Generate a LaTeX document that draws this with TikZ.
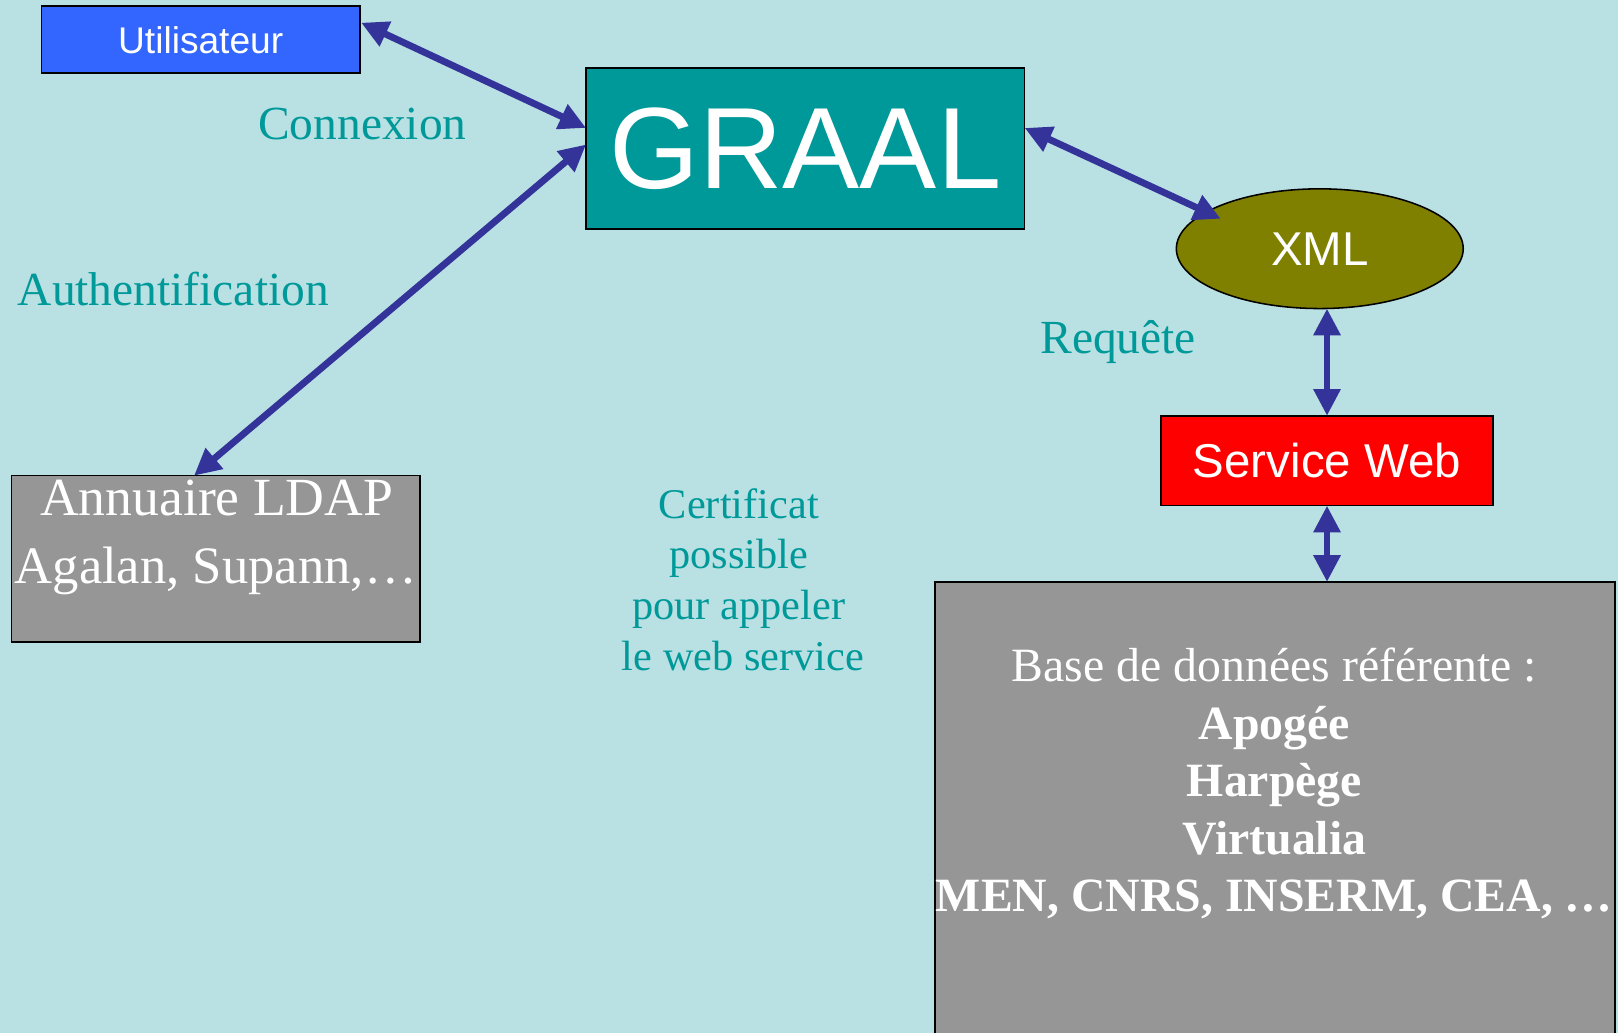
\documentclass[tikz,border=0pt]{standalone}
\usepackage{fontspec}
\setmainfont{Liberation Serif}
\newfontfamily\arialf{Liberation Sans}
\usetikzlibrary{arrows.meta,calc,shapes.geometric}
\definecolor{bgc}{HTML}{B9E0E3}
\definecolor{tealc}{HTML}{009999}
\definecolor{arrc}{HTML}{333399}
\definecolor{bluec}{HTML}{3366FF}
\definecolor{olivec}{HTML}{808000}
\definecolor{grayc}{HTML}{969696}
\tikzset{
  box/.style={draw=black, line width=1.5pt, inner sep=0pt, outer sep=0pt},
  lbl/.style={text=tealc, inner sep=0pt, anchor=base west, font=\fontsize{46}{50}\selectfont},
  cert/.style={text=tealc, inner sep=0pt, anchor=base, font=\fontsize{41}{50}\selectfont},
  wtxt/.style={text=white, inner sep=0pt, anchor=base},
  link/.style={draw=arrc, line width=6.6pt, {Triangle[length=26pt,width=25pt]}-{Triangle[length=26pt,width=25pt]}}
}
\begin{document}
\begin{tikzpicture}[x=1pt,y=-1pt]
\fill[bgc] (0,0) rectangle (1568,1001);
\useasboundingbox (0,0) rectangle (1568,1001);
% boxes
\node[box, fill=bluec, minimum width=309pt, minimum height=65pt, anchor=north west, text=white, font=\arialf\fontsize{36}{40}\selectfont] (util) at (40,6) {Utilisateur};
\node[box, fill=tealc, minimum width=425pt, minimum height=156pt, anchor=north west, text=white, font=\arialf\fontsize{112}{120}\selectfont] (graal) at (568,66) {GRAAL};
\node[box, ellipse, fill=olivec, minimum width=278pt, minimum height=116pt, text=white, font=\arialf\fontsize{46}{50}\selectfont] (xml) at (1279,241) {XML};
\node[box, fill=red, minimum width=322pt, minimum height=87pt, anchor=north west, text=white, font=\arialf\fontsize{46}{50}\selectfont] (sw) at (1125,403) {Service Web};
\node[box, fill=grayc, minimum width=396pt, minimum height=161pt, anchor=north west] (ldap) at (11,461) {};
\node[box, fill=grayc, minimum width=659pt, minimum height=445pt, anchor=north west] (base) at (906,564) {};
% LDAP text
\node[wtxt, font=\fontsize{52}{55}\selectfont] (ldap1) at (210,500) {Annuaire LDAP};
\node[wtxt, font=\fontsize{51}{55}\selectfont] (ldap2) at (209,565) {Agalan, Supann,…};
% Base text
\node[wtxt, font=\fontsize{46.3}{50}\selectfont] (b1) at (1235,660) {Base de données référente :};
\node[wtxt, font=\bfseries\fontsize{46.3}{50}\selectfont] (b2) at (1235,717) {Apogée};
\node[wtxt, font=\bfseries\fontsize{46.3}{50}\selectfont] (b3) at (1235,772) {Harpège};
\node[wtxt, font=\bfseries\fontsize{46.3}{50}\selectfont] (b4) at (1235,828) {Virtualia};
\node[wtxt, font=\bfseries\fontsize{46.3}{50}\selectfont] (b5) at (1235,883) {MEN, CNRS, INSERM, CEA, …};
% labels
\node[lbl] (lconn) at (250,135) {Connexion};
\node[lbl] (lauth) at (17,296) {Authentification};
\node[lbl] (lreq) at (1008,343) {Requête};
\node[cert] (c1) at (716,502) {Certificat};
\node[cert] (c2) at (716,551) {possible};
\node[cert] (c3) at (716,600) {pour appeler};
\node[cert] (c4) at (720,650) {le web service};
% connectors
\draw[link] ($(util.north east)+(1,16)$) -- ($(graal.north west)+(0,58)$);
\draw[link] ($(graal.north west)+(0,74)$) -- ($(ldap.north west)+(177,0)$);
\draw[link] ($(graal.north east)+(0,58)$) -- ($(xml.center)+(-96,-29)$);
\draw[link] (sw.north) -- (sw.north |- xml.south);
\draw[link] (sw.south) -- (sw.south |- base.north);
\end{tikzpicture}
\end{document}
